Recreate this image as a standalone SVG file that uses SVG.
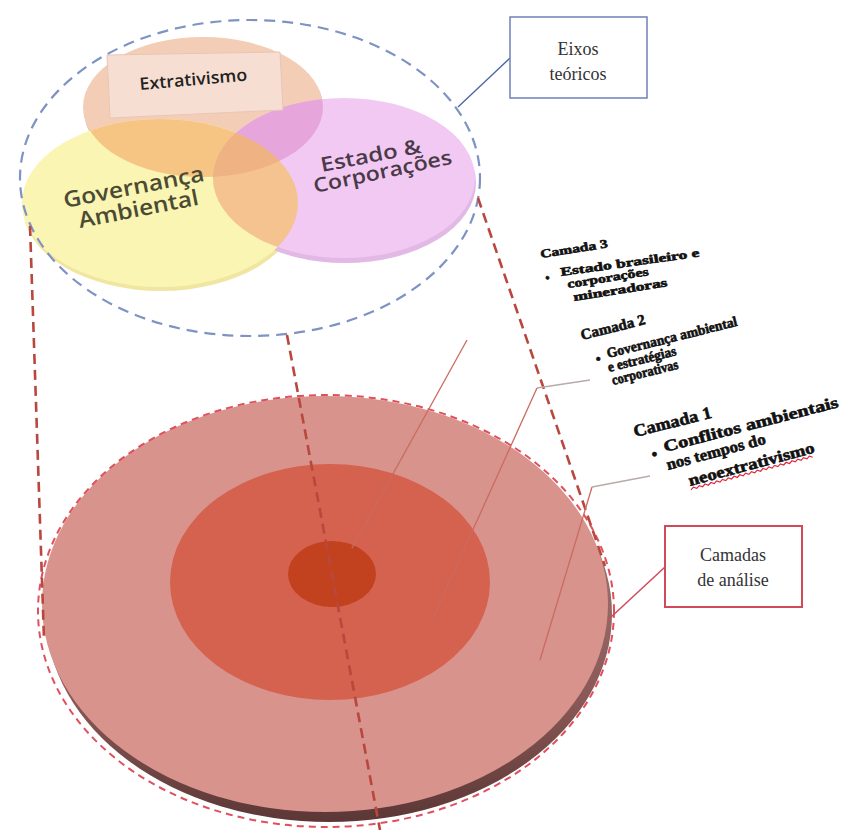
<svg xmlns="http://www.w3.org/2000/svg" width="843" height="832" viewBox="0 0 843 832">
<style>
  .rd{fill:none;stroke:#b9473e;stroke-width:2.6;stroke-dasharray:10 6}
  .bd{fill:none;stroke:#7e92c4;stroke-width:2.2;stroke-dasharray:11 7}
  .pd{fill:none;stroke:#e0505c;stroke-width:2;stroke-dasharray:7 5}
  .ptr{fill:none;stroke:#cc6a60;stroke-width:1.3}
  .ptrg{fill:none;stroke:#b8aaa8;stroke-width:1.3}
  .lay{font-family:"Liberation Serif","Times New Roman",serif;font-weight:bold;fill:#111;stroke:#111;stroke-width:0.6}
  .ven{font-family:"Open Sans","Liberation Sans",sans-serif;font-weight:600}
  .box{font-family:"Liberation Serif","Times New Roman",serif;font-size:18px;fill:#333;text-anchor:middle}
</style>
<defs>
  <linearGradient id="rimG" x1="0" y1="0" x2="0" y2="1">
    <stop offset="0" stop-color="#b48684"/>
    <stop offset="0.7" stop-color="#8a5957"/>
    <stop offset="1" stop-color="#5b3735"/>
  </linearGradient>
  <clipPath id="cExt"><ellipse cx="203" cy="107" rx="120" ry="70"/></clipPath>
  <clipPath id="cGov"><ellipse cx="160" cy="203" rx="138" ry="84"/></clipPath>
</defs>

<!-- Camadas de análise: disk -->
<g id="disco">
  <ellipse cx="329" cy="614" rx="283" ry="208" fill="url(#rimG)"/>
  <ellipse cx="325" cy="604" rx="283" ry="208" fill="#d8938d"/>
  <ellipse cx="326" cy="611" rx="288" ry="216" class="pd"/>
</g>
<g id="camada2">
  <ellipse cx="330" cy="582" rx="160" ry="118" fill="#d5614f"/>
</g>
<g id="camada3">
  <ellipse cx="332" cy="574" rx="44" ry="33" fill="#c2421f"/>
</g>

<!-- Eixos teóricos: venn -->
<g id="venn">
  <ellipse cx="204" cy="111" rx="120" ry="70" fill="#eac2aa"/>
  <ellipse cx="161" cy="207" rx="138" ry="84" fill="#f0e6a2"/>
  <ellipse cx="345" cy="183" rx="131" ry="80" fill="#e2b8e5"/>
  <ellipse cx="203" cy="107" rx="120" ry="70" fill="#f3cdb6"/>
  <ellipse cx="160" cy="203" rx="138" ry="84" fill="#faf5b2"/>
  <ellipse cx="344" cy="178" rx="131" ry="80" fill="#f1c9f3"/>
  <ellipse cx="160" cy="203" rx="138" ry="84" fill="#f6c583" clip-path="url(#cExt)"/>
  <ellipse cx="344" cy="178" rx="131" ry="80" fill="#e6a6dc" clip-path="url(#cExt)"/>
  <ellipse cx="344" cy="178" rx="131" ry="80" fill="#f4c38f" clip-path="url(#cGov)"/>
  <g clip-path="url(#cExt)"><ellipse cx="344" cy="178" rx="131" ry="80" fill="#efb282" clip-path="url(#cGov)"/></g>
</g>
<g id="extrativismo">
  <polygon points="107,55 280,52 283,110 110,118" fill="#f6ded3" stroke="#e8c6b6" stroke-width="1"/>
  <text class="ven" font-size="17" fill="#222" transform="translate(140,90) rotate(-5)" textLength="108" lengthAdjust="spacingAndGlyphs">Extrativismo</text>
</g>
<g id="governanca">
  <text class="ven" font-size="22" fill="#4b4b35" transform="translate(65,208) rotate(-11)" textLength="143" lengthAdjust="spacingAndGlyphs">Governança</text>
  <text class="ven" font-size="22" fill="#4b4b35" transform="translate(80,228) rotate(-11)" textLength="122" lengthAdjust="spacingAndGlyphs">Ambiental</text>
</g>
<g id="estado">
  <text class="ven" font-size="20" fill="#4a3a48" transform="translate(322,172) rotate(-11)" textLength="102" lengthAdjust="spacingAndGlyphs">Estado &amp;</text>
  <text class="ven" font-size="20" fill="#4a3a48" transform="translate(315,193) rotate(-12)" textLength="141" lengthAdjust="spacingAndGlyphs">Corporações</text>
</g>

<!-- connectors -->
<g id="connectors">
  <ellipse cx="250" cy="178" rx="230" ry="158" class="bd"/>
  <line x1="30" y1="226" x2="44" y2="640" class="rd"/>
  <line x1="478" y1="198" x2="605" y2="566" class="rd"/>
  <line x1="287" y1="335" x2="380" y2="830" class="rd"/>
  <line x1="467" y1="340" x2="352" y2="548" class="ptr"/>
  <polyline points="590,380 537,388" class="ptrg"/>
  <line x1="537" y1="388" x2="433" y2="618" class="ptr"/>
  <polyline points="650,476 592,487" class="ptrg"/>
  <line x1="592" y1="487" x2="540" y2="660" class="ptr"/>
  <line x1="510" y1="58" x2="458" y2="107" stroke="#4a66a8" stroke-width="1.3"/>
  <line x1="665" y1="567" x2="610" y2="618" stroke="#d04a5a" stroke-width="1.5"/>
</g>

<!-- layer texts -->
<g id="texto-camada3">
  <text class="lay" font-size="12" transform="translate(541,258) rotate(-9)" textLength="68" lengthAdjust="spacingAndGlyphs">Camada 3</text>
  <text class="lay" font-size="12" transform="translate(546,282) rotate(-9)">•</text>
  <text class="lay" font-size="12" transform="translate(561,276) rotate(-8)" textLength="140" lengthAdjust="spacingAndGlyphs">Estado brasileiro e</text>
  <text class="lay" font-size="12" transform="translate(568,288) rotate(-9)" textLength="82" lengthAdjust="spacingAndGlyphs">corporações</text>
  <text class="lay" font-size="12" transform="translate(574,301) rotate(-9)" textLength="95" lengthAdjust="spacingAndGlyphs">mineradoras</text>
</g>
<g id="texto-camada2">
  <text class="lay" font-size="15" transform="translate(582,340) rotate(-14)" textLength="66" lengthAdjust="spacingAndGlyphs">Camada 2</text>
  <text class="lay" font-size="14" transform="translate(597,364) rotate(-14)">•</text>
  <text class="lay" font-size="14" transform="translate(608,358) rotate(-14)" textLength="134" lengthAdjust="spacingAndGlyphs">Governança ambiental</text>
  <text class="lay" font-size="14" transform="translate(609,372) rotate(-14)" textLength="70" lengthAdjust="spacingAndGlyphs">e estratégias</text>
  <text class="lay" font-size="14" transform="translate(613,385) rotate(-14)" textLength="68" lengthAdjust="spacingAndGlyphs">corporativas</text>
</g>
<g id="texto-camada1">
  <text class="lay" font-size="17" transform="translate(635,437) rotate(-14)" textLength="80" lengthAdjust="spacingAndGlyphs">Camada 1</text>
  <text class="lay" font-size="16" transform="translate(653,460) rotate(-14)">•</text>
  <text class="lay" font-size="16" transform="translate(665,452) rotate(-14.5)" textLength="180" lengthAdjust="spacingAndGlyphs">Conflitos ambientais</text>
  <text class="lay" font-size="16" transform="translate(668,470) rotate(-15)" textLength="102" lengthAdjust="spacingAndGlyphs">nos tempos do</text>
  <g transform="translate(690,486) rotate(-15)">
    <text class="lay" font-size="16" textLength="130" lengthAdjust="spacingAndGlyphs">neoextrativismo</text>
    <path d="M0,4 l3,-2 l3,2 l3,-2 l3,2 l3,-2 l3,2 l3,-2 l3,2 l3,-2 l3,2 l3,-2 l3,2 l3,-2 l3,2 l3,-2 l3,2 l3,-2 l3,2 l3,-2 l3,2 l3,-2 l3,2 l3,-2 l3,2 l3,-2 l3,2 l3,-2 l3,2 l3,-2 l3,2 l3,-2 l3,2 l3,-2 l3,2 l3,-2 l3,2 l3,-2 l3,2 l3,-2 l3,2 l3,-2 l3,2" fill="none" stroke="#e02a3a" stroke-width="1.2"/>
  </g>
</g>

<!-- label boxes -->
<g id="eixos-teoricos">
  <rect x="510" y="17" width="137" height="81" fill="#fff" stroke="#7080b8" stroke-width="1.5"/>
  <text class="box" x="578" y="55">Eixos</text>
  <text class="box" x="578" y="80">teóricos</text>
</g>
<g id="camadas-de-analise">
  <rect x="665" y="526" width="137" height="81" fill="#fff" stroke="#d04a5a" stroke-width="2"/>
  <text class="box" x="733" y="561">Camadas</text>
  <text class="box" x="733" y="586">de análise</text>
</g>
</svg>
